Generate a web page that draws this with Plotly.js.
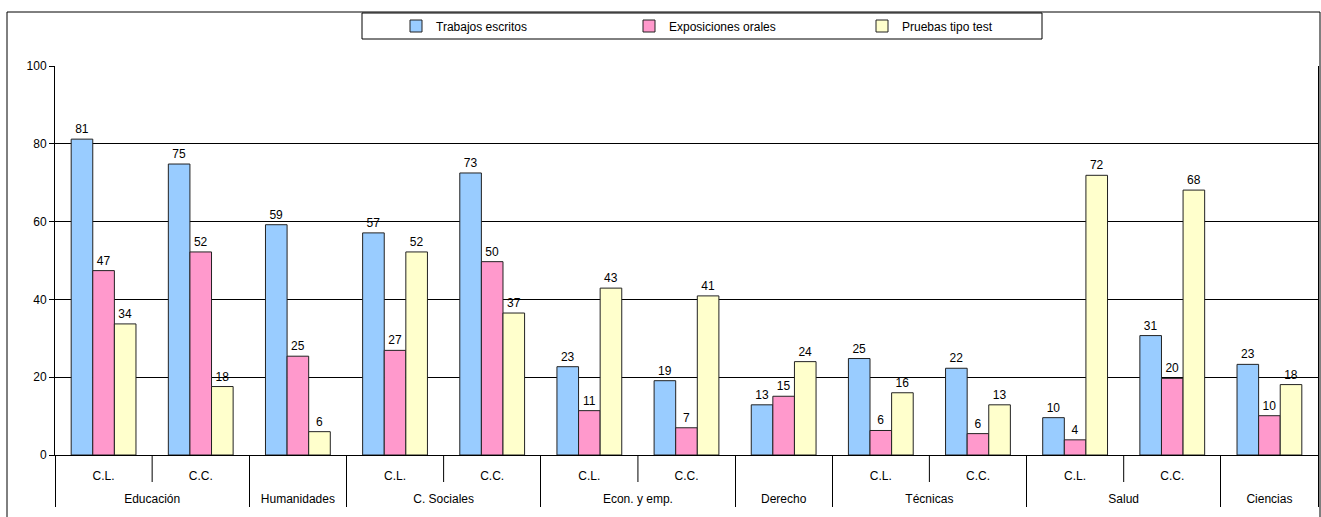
<!DOCTYPE html>
<html>
<head>
<meta charset="utf-8">
<script src="https://cdn.plot.ly/plotly-3.0.1.min.js"></script>
<style>html,body{margin:0;padding:0;background:#fff;}#chart{width:1321px;height:517px;}</style>
</head>
<body>
<div id="chart"></div>
<script>
// Outer (area) and inner (campus) category labels
const areas = ["Educación","Educación","Humanidades","C. Sociales","C. Sociales","Econ. y emp.","Econ. y emp.","Derecho","Técnicas","Técnicas","Salud","Salud","Ciencias"];
const campus = ["C.L.","C.C."," ","C.L.","C.C.","C.L.","C.C."," ","C.L.","C.C.","C.L.","C.C."," "];

const seriesNames = ["Trabajos escritos","Exposiciones orales","Pruebas tipo test"];
const trabajosEscritos   = [81.2, 74.8, 59.2, 57.1, 72.5, 22.7, 19.1, 12.9, 24.8, 22.3, 9.6, 30.7, 23.3];
const exposicionesOrales = [47.4, 52.2, 25.4, 26.9, 49.7, 11.4, 7.0, 15.1, 6.3, 5.5, 3.9, 19.7, 10.1];
const pruebasTipoTest    = [33.7, 17.6, 6.0, 52.2, 36.5, 42.9, 40.9, 24.0, 16.0, 12.9, 71.9, 68.1, 18.1];
const seriesColors = ["#99CCFF","#FF99CC","#FFFFCC"];

const yTicks = [0,20,40,60,80,100];

const FONT = "Liberation Sans, Arial, sans-serif";
const values = [trabajosEscritos, exposicionesOrales, pruebasTipoTest];
// inner labels get an extra (empty) line so the outer row sits lower, as in the original
const campusLabels = campus.map(c => c + "<br><span style='font-size:20px'> </span>");
const traces = values.map((v,k)=>({
  type:"bar",
  name: seriesNames[k],
  x:[areas, campusLabels],
  y:v,
  marker:{color:seriesColors[k], line:{color:"#222", width:1}},
  text:v.map(d=>Math.round(d).toString()),
  textposition:"outside",
  constraintext:"none",
  cliponaxis:false,
  textfont:{family:FONT, size:12, color:"#000"},
  hoverinfo:"skip"
}));

// plot geometry (px)
const L=55, R=3, T=66, B=62, W=1321, H=517;
const pw=W-L-R, ph=H-T-B;
const px2x = p => (p-L)/pw;
const py2y = p => (H-B-p)/ph;

const shapes = [];
// short separators between inner categories of the same area
const n = areas.length;
for(let i=0;i<n-1;i++){
  if(areas[i]===areas[i+1]){
    shapes.push({type:"line", xref:"paper", yref:"paper", x0:(i+1)/n, x1:(i+1)/n, y0:0, y1:-27/ph, line:{color:"#000", width:1}});
  }
}
// legend frame
shapes.push({type:"rect", xref:"paper", yref:"paper", x0:px2x(362), x1:px2x(1042), y0:py2y(39), y1:py2y(13), line:{color:"#000", width:1}, fillcolor:"rgba(0,0,0,0)"});
// outer chart frame
shapes.push({type:"rect", xref:"paper", yref:"paper", x0:px2x(7), x1:px2x(1320), y0:py2y(530), y1:py2y(12), line:{color:"#000", width:1}, fillcolor:"rgba(0,0,0,0)"});

const layout = {
  width:W, height:H,
  margin:{l:L, r:R, t:T, b:B, pad:0},
  paper_bgcolor:"#fff", plot_bgcolor:"#fff",
  font:{family:FONT, size:12, color:"#000"},
  barmode:"group", bargap:0.333, bargroupgap:0,
  showlegend:true,
  legend:{orientation:"h", x:px2x(396), xanchor:"left", y:py2y(26), yanchor:"middle",
          font:{family:FONT, size:12, color:"#000"}, bgcolor:"rgba(0,0,0,0)", borderwidth:0,
          entrywidth:188, entrywidthmode:"pixels", traceorder:"normal"},
  xaxis:{type:"multicategory", showdividers:true, dividercolor:"#000", dividerwidth:1,
         showline:true, linecolor:"#000", linewidth:1, ticks:"", ticklabelstandoff:10, showgrid:false,
         tickfont:{family:FONT, size:12, color:"#000"}, mirror:false},
  yaxis:{range:[0,100], tickvals:yTicks, ticks:"outside", ticklen:5, tickcolor:"#000",
         showline:true, linecolor:"#000", linewidth:1, mirror:true, showgrid:true, gridcolor:"#000", gridwidth:1,
         zeroline:false, tickfont:{family:FONT, size:12, color:"#000"}},
  shapes: shapes
};

Plotly.newPlot("chart", traces, layout, {staticPlot:true, displayModeBar:false});
</script>
</body>
</html>
